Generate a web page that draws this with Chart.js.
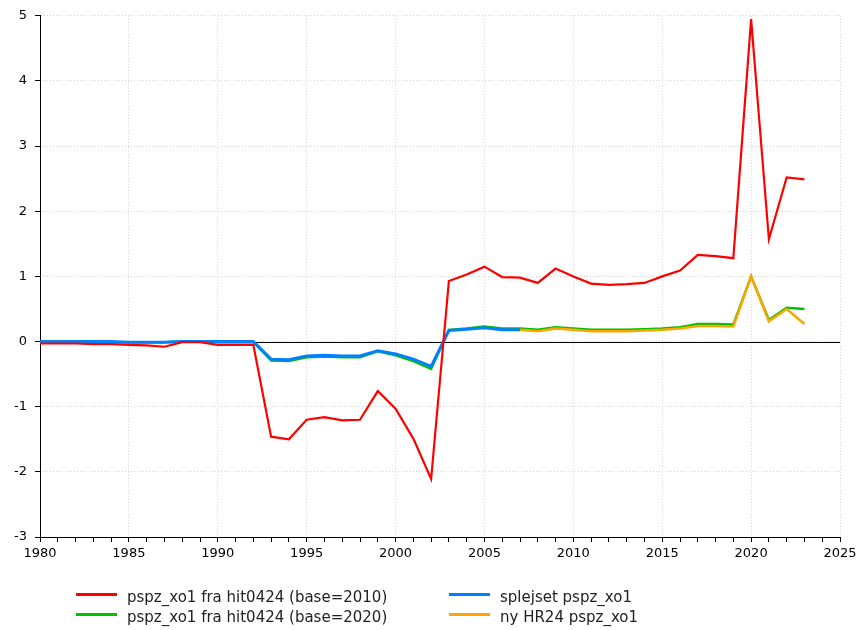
<!DOCTYPE html>
<html>
<head>
<meta charset="utf-8">
<script src="https://cdn.jsdelivr.net/npm/chart.js@4/dist/chart.umd.min.js"></script>
<style>
    html, body { margin: 0; padding: 0; background: #fff; }
    #wrap { position: relative; width: 867px; height: 630px; }
    canvas { position: absolute; left: 0; top: 0; }
    #legend {
        position: absolute;
        left: 76px;
        top: 585px;
        display: grid;
        grid-template-columns: 373px auto;
        grid-template-rows: 19.5px 19.5px;
        grid-auto-flow: column;
        font: 15px "DejaVu Sans", Verdana, sans-serif;
        color: #222;
    }
    .item { display: flex; align-items: center; white-space: nowrap; line-height: 19.5px; }
    .item .text { position: relative; top: 3px; }
    .swatch { width: 41px; height: 3px; margin-right: 10px; }
</style>
</head>
<body>
<div id="wrap">
    <canvas id="chart" width="867" height="630"></canvas>
    <div id="legend"></div>
</div>
<script>
const years = [
    1980, 1981, 1982, 1983, 1984, 1985, 1986, 1987, 1988, 1989,
    1990, 1991, 1992, 1993, 1994, 1995, 1996, 1997, 1998, 1999,
    2000, 2001, 2002, 2003, 2004, 2005, 2006, 2007, 2008, 2009,
    2010, 2011, 2012, 2013, 2014, 2015, 2016, 2017, 2018, 2019,
    2020, 2021, 2022, 2023
]

const hitBase2010 = [
    -0.03, -0.03, -0.03, -0.04, -0.04, -0.05, -0.06, -0.08, -0.01, -0.01,
    -0.05, -0.05, -0.05, -1.46, -1.50, -1.20, -1.16, -1.21, -1.20, -0.76,
    -1.03, -1.49, -2.11, 0.93, 1.03, 1.15, 0.99, 0.98, 0.90, 1.12,
    1.00, 0.89, 0.87, 0.88, 0.90, 1.00, 1.09, 1.33, 1.31, 1.28,
    4.95, 1.57, 2.52, 2.49
]

const hitBase2020 = [
    -0.01, -0.01, -0.01, -0.01, -0.01, -0.01, -0.01, -0.01, 0.00, 0.00,
    -0.01, -0.01, -0.01, -0.29, -0.30, -0.24, -0.23, -0.24, -0.24, -0.15,
    -0.21, -0.30, -0.42, 0.18, 0.20, 0.23, 0.20, 0.20, 0.18, 0.22,
    0.20, 0.18, 0.18, 0.18, 0.19, 0.20, 0.22, 0.27, 0.27, 0.26,
    1.00, 0.33, 0.52, 0.50
]

const spliced = [
    0.00, 0.00, 0.00, 0.00, 0.00, -0.01, -0.01, -0.01, 0.00, 0.00,
    0.00, 0.00, 0.00, -0.27, -0.28, -0.22, -0.21, -0.22, -0.22, -0.14,
    -0.19, -0.27, -0.38, 0.17, 0.19, 0.21, 0.18, 0.18, null, null,
    null, null, null, null, null, null, null, null, null, null,
    null, null, null, null
]

const newHR24 = [
    null, null, null, null, null, null, null, null, null, null,
    null, null, null, null, null, null, null, null, null, null,
    null, null, null, null, null, null, null, 0.18, 0.16, 0.20,
    0.18, 0.16, 0.16, 0.16, 0.17, 0.18, 0.20, 0.24, 0.24, 0.23,
    1.00, 0.31, 0.50, 0.27
]

const yTicks = [-3, -2, -1, 0, 1, 2, 3, 4, 5]

const FONT = '"DejaVu Sans", Verdana, sans-serif'
const GRID = '#d4d4d4'

const toPoints = values => years.map((year, idx) => ({ x: year, y: values[idx] }))

// solid line at y = 0, under the series
const zeroLine = {
    id: 'zeroLine',
    beforeDatasetsDraw(chart) {
        const { ctx, chartArea, scales: { y } } = chart
        const py = Math.round(y.getPixelForValue(0)) + 0.5
        ctx.save()
        ctx.strokeStyle = '#000'
        ctx.lineWidth = 1
        ctx.beginPath()
        ctx.moveTo(chartArea.left, py)
        ctx.lineTo(chartArea.right, py)
        ctx.stroke()
        ctx.restore()
    }
}

const series = [
    { label: 'pspz_xo1 fra hit0424 (base=2010)', data: hitBase2010, color: '#ff0000', width: 2.2, order: 0 },
    { label: 'pspz_xo1 fra hit0424 (base=2020)', data: hitBase2020, color: '#00c000', width: 2.5, order: 3 },
    { label: 'splejset pspz_xo1', data: spliced, color: '#0080ff', width: 3, order: 1 },
    { label: 'ny HR24 pspz_xo1', data: newHR24, color: '#ffa500', width: 2.5, order: 2 }
]

const datasets = series.map(s => ({
    label: s.label,
    data: toPoints(s.data),
    borderColor: s.color,
    backgroundColor: s.color,
    borderWidth: s.width,
    pointRadius: 0,
    tension: 0,
    spanGaps: false,
    order: s.order
}))

const chart = new Chart(document.getElementById('chart'), {
    type: 'line',
    data: { datasets },
    plugins: [zeroLine],
    options: {
        responsive: false,
        animation: false,
        layout: { padding: { top: 15, right: 27, left: 0, bottom: 0 } },
        plugins: {
            legend: { display: false },
            tooltip: { enabled: false }
        },
        scales: {
            x: {
                type: 'linear',
                min: 1980,
                max: 2025,
                afterFit: scale => { scale.height = 93 },
                ticks: {
                    stepSize: 1,
                    autoSkip: false,
                    maxRotation: 0,
                    padding: 4,
                    color: '#000',
                    font: { family: FONT, size: 13 },
                    callback: value => value % 5 === 0 ? String(value) : ''
                },
                grid: {
                    color: ctx => ctx.tick && ctx.tick.value % 5 === 0 ? GRID : 'rgba(0,0,0,0)',
                    tickColor: '#000',
                    tickLength: 5,
                    lineWidth: 1
                },
                border: { color: '#000', width: 1, dash: [1, 2] }
            },
            y: {
                min: yTicks[0],
                max: yTicks[yTicks.length - 1],
                afterFit: scale => { scale.width = 40 },
                afterBuildTicks: scale => { scale.ticks = yTicks.map(value => ({ value })) },
                ticks: {
                    padding: 8,
                    color: '#000',
                    font: { family: FONT, size: 13 },
                    callback: value => String(value)
                },
                grid: {
                    color: GRID,
                    tickColor: '#000',
                    tickLength: 5,
                    lineWidth: 1
                },
                border: { color: '#000', width: 1, dash: [1, 2] }
            }
        }
    }
})

const legend = document.getElementById('legend')
chart.data.datasets.forEach(dataset => {
    const item = document.createElement('div')
    item.className = 'item'
    item.innerHTML = `<span class="swatch" style="background:${dataset.borderColor}"></span><span class="text">${dataset.label}</span>`
    legend.appendChild(item)
})
</script>
</body>
</html>
